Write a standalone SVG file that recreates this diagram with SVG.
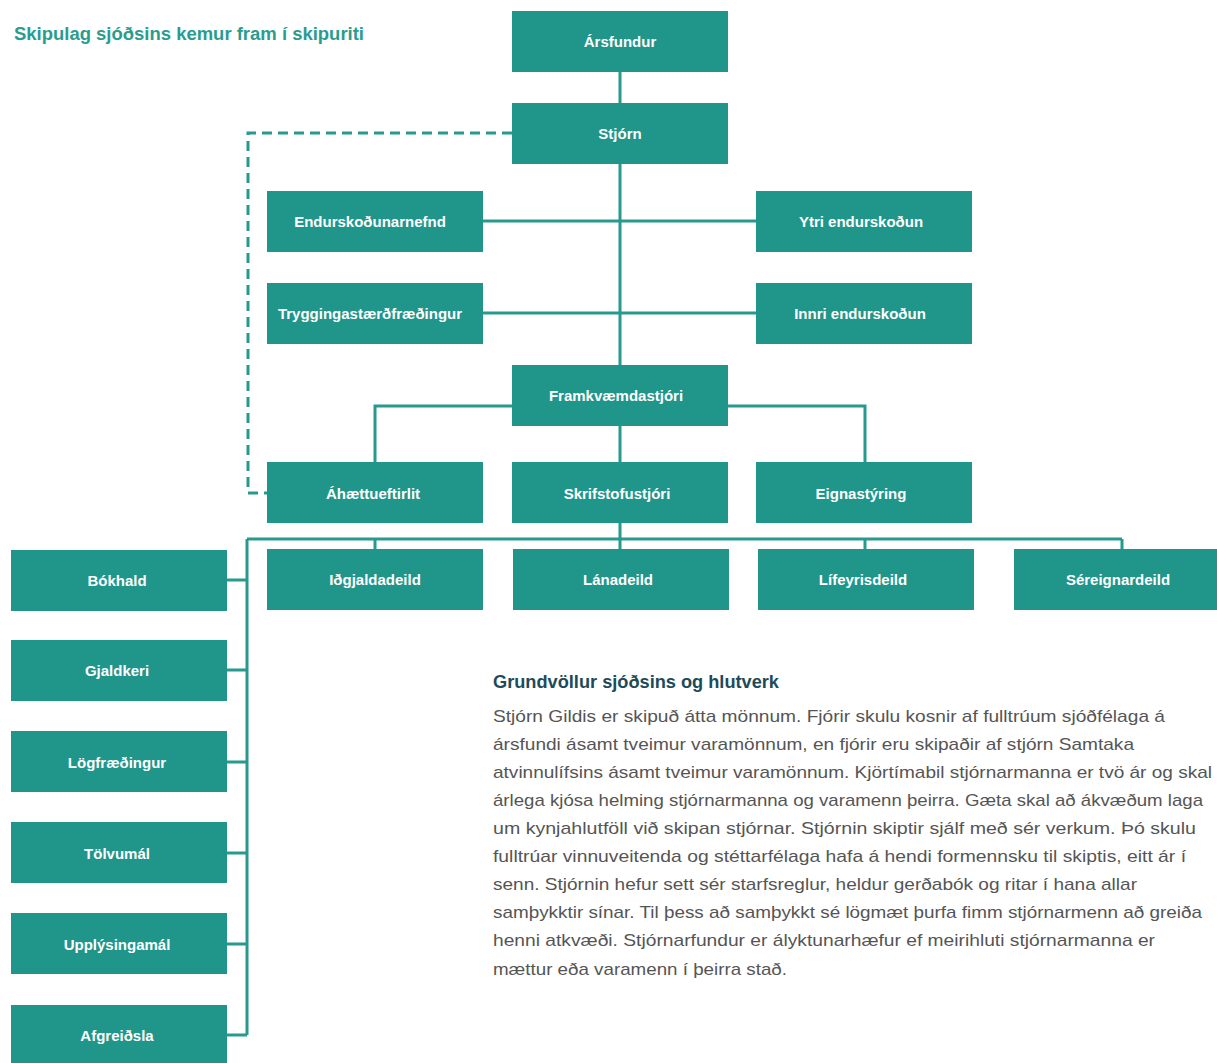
<svg xmlns="http://www.w3.org/2000/svg" width="1217" height="1063" viewBox="0 0 1217 1063">
<style>
.box{fill:#20958a}
.lbl{font-family:"Liberation Sans",Arial,sans-serif;font-weight:bold;font-size:15px;fill:#ffffff;text-anchor:middle}
.ln{stroke:#27998d;stroke-width:3;fill:none}
.dash{stroke:#27998d;stroke-width:3;fill:none;stroke-dasharray:10 6}
.title{font-family:"Liberation Sans",Arial,sans-serif;font-weight:bold;font-size:18px;fill:#2a9c8f}
.head{font-family:"Liberation Sans",Arial,sans-serif;font-weight:bold;font-size:18px;fill:#1d4b5a}
.body{font-family:"Liberation Sans",Arial,sans-serif;font-size:17px;fill:#555555}
</style>
<rect width="1217" height="1063" fill="#ffffff"/>
<text class="title" x="14" y="40" textLength="350" lengthAdjust="spacingAndGlyphs">Skipulag sjóðsins kemur fram í skipuriti</text>
<g id="connectors">
<path class="ln" d="M620 72V365"/>
<path class="ln" d="M483 221H756M483 313H756"/>
<path class="dash" d="M512 133H248V493H267"/>
<path class="ln" d="M512 406H375V462M728 406H865V462M620 426V462"/>
<path class="ln" d="M620 523V539M247 539H1122M375 539V549M620 539V549M865 539V549M1122 539V549"/>
<path class="ln" d="M247 539V1035M227 580H247M227 670H247M227 762H247M227 853H247M227 944H247M227 1035H247"/>
</g>
<g id="n-arsfundur"><rect class="box" x="512" y="11" width="216" height="61"/><text class="lbl" x="620" y="47">Ársfundur</text></g>
<g id="n-stjorn"><rect class="box" x="512" y="103" width="216" height="61"/><text class="lbl" x="620" y="139">Stjórn</text></g>
<g id="n-endurskodunarnefnd"><rect class="box" x="267" y="191" width="216" height="61"/><text class="lbl" x="370" y="227">Endurskoðunarnefnd</text></g>
<g id="n-ytri"><rect class="box" x="756" y="191" width="216" height="61"/><text class="lbl" x="861" y="227">Ytri endurskoðun</text></g>
<g id="n-trygg"><rect class="box" x="267" y="283" width="216" height="61"/><text class="lbl" x="370" y="319">Tryggingastærðfræðingur</text></g>
<g id="n-innri"><rect class="box" x="756" y="283" width="216" height="61"/><text class="lbl" x="860" y="319">Innri endurskoðun</text></g>
<g id="n-framkv"><rect class="box" x="512" y="365" width="216" height="61"/><text class="lbl" x="616" y="401">Framkvæmdastjóri</text></g>
<g id="n-ahaettu"><rect class="box" x="267" y="462" width="216" height="61"/><text class="lbl" x="373" y="499">Áhættueftirlit</text></g>
<g id="n-skrifst"><rect class="box" x="512" y="462" width="216" height="61"/><text class="lbl" x="617" y="499">Skrifstofustjóri</text></g>
<g id="n-eigna"><rect class="box" x="756" y="462" width="216" height="61"/><text class="lbl" x="861" y="499">Eignastýring</text></g>
<g id="n-idgjald"><rect class="box" x="267" y="549" width="216" height="61"/><text class="lbl" x="375" y="585">Iðgjaldadeild</text></g>
<g id="n-lana"><rect class="box" x="513" y="549" width="216" height="61"/><text class="lbl" x="618" y="585">Lánadeild</text></g>
<g id="n-lifeyris"><rect class="box" x="758" y="549" width="216" height="61"/><text class="lbl" x="863" y="585">Lífeyrisdeild</text></g>
<g id="n-sereign"><rect class="box" x="1014" y="549" width="210" height="61"/><text class="lbl" x="1118" y="585">Séreignardeild</text></g>
<g id="n-bokhald"><rect class="box" x="11" y="550" width="216" height="61"/><text class="lbl" x="117" y="586">Bókhald</text></g>
<g id="n-gjaldkeri"><rect class="box" x="11" y="640" width="216" height="61"/><text class="lbl" x="117" y="676">Gjaldkeri</text></g>
<g id="n-logfr"><rect class="box" x="11" y="731" width="216" height="61"/><text class="lbl" x="117" y="768">Lögfræðingur</text></g>
<g id="n-tolvu"><rect class="box" x="11" y="822" width="216" height="61"/><text class="lbl" x="117" y="859">Tölvumál</text></g>
<g id="n-upplys"><rect class="box" x="11" y="913" width="216" height="61"/><text class="lbl" x="117" y="950">Upplýsingamál</text></g>
<g id="n-afgr"><rect class="box" x="11" y="1005" width="216" height="64"/><text class="lbl" x="117" y="1041">Afgreiðsla</text></g>
<g id="textblock">
<text class="head" x="493" y="688" textLength="286" lengthAdjust="spacingAndGlyphs">Grundvöllur sjóðsins og hlutverk</text>
<text class="body" x="493" y="722" textLength="672" lengthAdjust="spacingAndGlyphs">Stjórn Gildis er skipuð átta mönnum. Fjórir skulu kosnir af fulltrúum sjóðfélaga á</text>
<text class="body" x="493" y="750" textLength="641" lengthAdjust="spacingAndGlyphs">ársfundi ásamt tveimur varamönnum, en fjórir eru skipaðir af stjórn Samtaka</text>
<text class="body" x="493" y="778" textLength="719" lengthAdjust="spacingAndGlyphs">atvinnulífsins ásamt tveimur varamönnum. Kjörtímabil stjórnarmanna er tvö ár og skal</text>
<text class="body" x="493" y="806" textLength="710" lengthAdjust="spacingAndGlyphs">árlega kjósa helming stjórnarmanna og varamenn þeirra. Gæta skal að ákvæðum laga</text>
<text class="body" x="493" y="834" textLength="703" lengthAdjust="spacingAndGlyphs">um kynjahlutföll við skipan stjórnar. Stjórnin skiptir sjálf með sér verkum. Þó skulu</text>
<text class="body" x="493" y="862" textLength="693" lengthAdjust="spacingAndGlyphs">fulltrúar vinnuveitenda og stéttarfélaga hafa á hendi formennsku til skiptis, eitt ár í</text>
<text class="body" x="493" y="890" textLength="644" lengthAdjust="spacingAndGlyphs">senn. Stjórnin hefur sett sér starfsreglur, heldur gerðabók og ritar í hana allar</text>
<text class="body" x="493" y="918" textLength="709" lengthAdjust="spacingAndGlyphs">samþykktir sínar. Til þess að samþykkt sé lögmæt þurfa fimm stjórnarmenn að greiða</text>
<text class="body" x="493" y="946" textLength="662" lengthAdjust="spacingAndGlyphs">henni atkvæði. Stjórnarfundur er ályktunarhæfur ef meirihluti stjórnarmanna er</text>
<text class="body" x="493" y="975" textLength="294" lengthAdjust="spacingAndGlyphs">mættur eða varamenn í þeirra stað.</text>
</g>
</svg>
